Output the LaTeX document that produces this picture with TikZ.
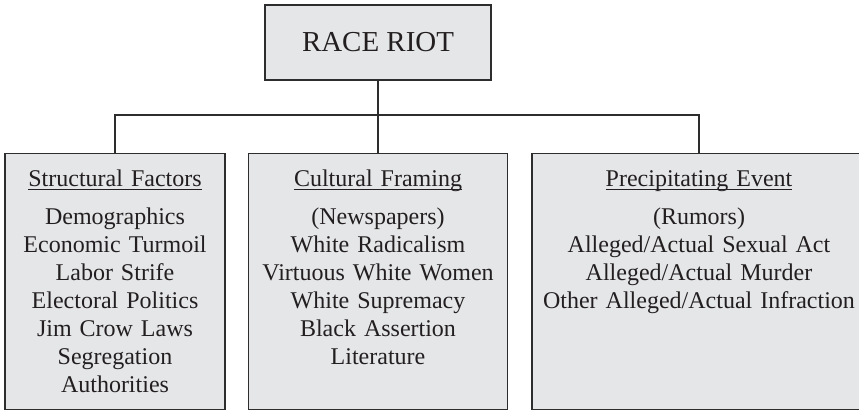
\documentclass[tikz,border=0pt]{standalone}
\usepackage{fontspec}
\setmainfont{Liberation Serif}
\tikzset{>=latex}
\definecolor{boxgray}{RGB}{229,230,232}
\definecolor{linegray}{RGB}{45,45,45}
\definecolor{inkblack}{RGB}{35,31,32}
\tikzstyle{riotbox}=[draw=linegray,fill=boxgray,line width=0.9pt,minimum width=169.5pt,minimum height=56.25pt,inner sep=0pt,font=\fontsize{21.7}{26}\selectfont,text=inkblack]
\tikzstyle{factorbox}=[draw=linegray,fill=boxgray,line width=0.9pt,anchor=north,align=center,inner sep=0pt,text height=24.75pt,text depth=167.25pt,font=\fontsize{18}{21}\selectfont,text=inkblack]
\tikzstyle{link}=[draw=linegray,line width=0.9pt]
\newcommand{\uheading}[1]{\setbox0\hbox{#1}\rlap{\rule[-2.4pt]{\wd0}{0.6pt}}\box0}

\begin{document}
\begin{tikzpicture}[x=0.75pt,y=-0.75pt]
    \useasboundingbox (0,0) rectangle (859,410);

    % Top box
    \node[riotbox] (riot) at (378,42.5) {RACE RIOT};

    % The three factor boxes
    \node[factorbox,text width=160pt,minimum width=165pt] (structural) at (115,153)
      {\uheading{Structural Factors}\\[7.5pt]
       Demographics\\ Economic Turmoil\\ Labor Strife\\ Electoral Politics\\
       Jim Crow Laws\\ Segregation\\ Authorities};
    \node[factorbox,text width=190pt,minimum width=194.25pt] (cultural) at (378,153)
      {\uheading{Cultural Framing}\\[7.5pt]
       (Newspapers)\\ White Radicalism\\ Virtuous White Women\\ White Supremacy\\
       Black Assertion\\ Literature};
    \node[factorbox,text width=240pt,minimum width=250.5pt] (precip) at (699,153)
      {\uheading{Precipitating Event}\\[7.5pt]
       (Rumors)\\ Alleged/Actual Sexual Act\\ Alleged/Actual Murder\\
       Other Alleged/Actual Infraction};

    % Connectors
    \coordinate (bus) at (378,115);
    \draw[link] (riot.south) -- (cultural.north);
    \draw[link] (structural.north) |- (bus) -| (precip.north);
  \end{tikzpicture}
\end{document}
